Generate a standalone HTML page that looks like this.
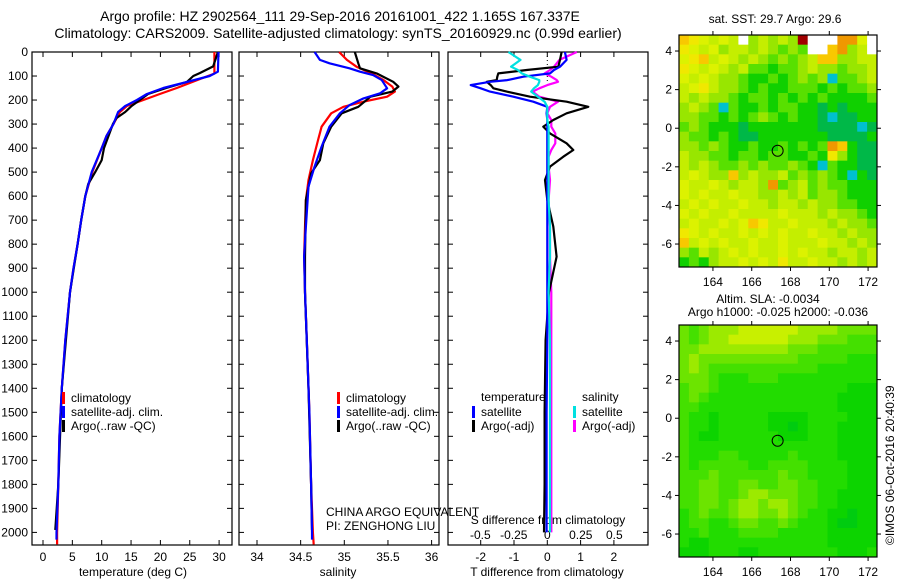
<!DOCTYPE html>
<html><head><meta charset="utf-8">
<style>
body{margin:0;background:#fff;}
svg{display:block;font-family:"Liberation Sans",sans-serif;}
text{fill:#000;}
</style></head>
<body>
<svg id="fig" width="900" height="580" viewBox="0 0 900 580">
<text x="340" y="21" font-size="14" text-anchor="middle">Argo profile: HZ 2902564_111 29-Sep-2016 20161001_422 1.165S 167.337E</text>
<text x="338" y="38" font-size="14" text-anchor="middle">Climatology: CARS2009. Satellite-adjusted climatology: synTS_20160929.nc (0.99d earlier)</text>
<text x="775" y="23" font-size="12" text-anchor="middle">sat. SST: 29.7 Argo: 29.6</text>
<text x="768" y="303" font-size="12" text-anchor="middle">Altim. SLA: -0.0034</text>
<text x="778" y="316" font-size="12" text-anchor="middle">Argo h1000: -0.025 h2000: -0.036</text>
<text transform="translate(894,545) rotate(-90)" font-size="12">©IMOS 06-Oct-2016 20:40:39</text>
<text x="326" y="516" font-size="12">CHINA ARGO EQUIVALENT</text>
<text x="326" y="530" font-size="12">PI: ZENGHONG LIU</text>
<text x="133" y="576" font-size="12" text-anchor="middle">temperature (deg C)</text>
<text x="338" y="576" font-size="12" text-anchor="middle">salinity</text>
<text x="547" y="576" font-size="12" text-anchor="middle">T difference from climatology</text>
<text x="548" y="524" font-size="12" text-anchor="middle">S difference from climatology</text>
</svg>
<script>
// ---------- data ----------
const depthTicks=[0,100,200,300,400,500,600,700,800,900,1000,1100,1200,1300,1400,1500,1600,1700,1800,1900,2000];
const tTicks=[0,5,10,15,20,25,30];
const sTicks=[34,34.5,35,35.5,36];
const sTickLabels=["34","34.5","35","35.5","36"];
const dtTicks=[-2,-1,0,1,2];
const dsTicks=[-0.5,-0.25,0,0.25,0.5];
const dsTickLabels=["-0.5","-0.25","0","0.25","0.5"];

const tClimDepth=[0,90,100,150,175,200,225,250,300,350,400,500,600,700,800,900,1000,1200,1400,1600,1800,2000,2050];
const tClimVal=[29.2,29.2,28.1,22.8,19.9,17.1,14.3,13.1,12.0,10.8,10.0,8.4,7.2,6.5,5.9,5.2,4.6,3.8,3.2,2.8,2.6,2.4,2.4];
const tSatDepth=[0,82,100,125,150,175,200,225,250,300,350,400,500,600,700,800,900,1000,1200,1400,1600,1800,2000,2030];
const tSatVal=[29.9,29.8,28.4,24.5,20.5,17.7,16.0,14.0,12.8,12.0,10.8,10.0,8.3,7.2,6.5,5.9,5.2,4.6,3.8,3.2,2.8,2.6,2.3,2.3];
const tArgoDepth=[0,60,88,100,125,150,175,200,225,250,275,300,400,450,500,550,600,700,800,1000,1400,1800,1990];
const tArgoVal=[29.8,29.0,26.7,25.6,24.5,21.0,17.9,16.5,15.1,14.0,12.5,11.9,10.4,10.0,8.9,7.7,7.2,6.5,5.9,4.6,3.2,2.6,2.1];

const sClimDepth=[0,33,61,89,117,144,165,186,207,228,255,311,366,450,533,616,727,852,1000,1200,1500,1800,2000,2050];
const sClimVal=[34.94,35.03,35.14,35.31,35.45,35.55,35.58,35.49,35.22,34.99,34.85,34.74,34.70,34.64,34.59,34.56,34.55,34.54,34.55,34.57,34.60,34.62,34.64,34.65];
const sSatDepth=[0,33,47,68,82,96,117,151,172,193,221,255,311,394,477,560,727,852,1000,1200,1500,1800,2000,2030];
const sSatVal=[34.66,34.72,34.83,35.06,35.18,35.33,35.43,35.49,35.41,35.22,35.06,34.95,34.83,34.74,34.66,34.59,34.56,34.54,34.55,34.57,34.60,34.62,34.63,34.63];
const sArgoDepth=[0,47,68,89,124,144,165,186,228,255,311,380,450,505,616,852,1000,1400,1800,1990];
const sArgoVal=[35.12,35.16,35.18,35.37,35.56,35.62,35.55,35.30,35.16,34.97,34.85,34.76,34.72,34.62,34.56,34.55,34.55,34.59,34.62,34.63];

const dDepth=[0,33,61,75,89,103,117,124,138,151,165,186,207,228,255,283,311,339,380,408,436,477,533,616,727,852,1000,1200,1500,1800,2000];
const dtSatVal=[0.53,0.58,0.38,0.2,0.08,-0.72,-1.2,-1.72,-2.3,-2.0,-1.72,-1.02,-0.42,0.0,-0.02,0.0,0.0,0.0,0.0,0.0,0.0,0.0,0.0,0.0,0.0,0.0,0.0,0.0,-0.02,-0.02,-0.02];
const dtArgoVal=[0.43,0.38,0.33,-0.62,-1.47,-1.5,-1.52,-1.82,-1.7,-1.62,-1.22,-0.52,0.58,1.23,0.58,0.18,-0.12,0.08,0.58,0.78,0.48,0.08,-0.07,0.0,0.18,0.28,0.05,-0.05,-0.08,-0.08,-0.1];
const dsSatVal=[-0.29,-0.2,-0.27,-0.22,-0.19,-0.13,-0.06,-0.06,-0.07,-0.10,-0.12,-0.07,-0.02,0.0,0.0,0.0,0.01,0.01,0.01,0.01,0.01,0.01,0.01,0.01,0.02,0.02,0.01,0.02,0.02,0.02,0.02];
const dsArgoVal=[0.22,0.09,0.05,0.02,-0.02,0.03,0.07,0.08,0.0,-0.06,-0.11,-0.06,0.08,0.02,0.0,0.03,0.03,0.06,0.06,0.03,0.01,0.01,0.02,0.01,0.02,0.02,0.03,0.03,0.03,0.03,0.03];

const sstRows=[
"HGFEFEWDEDEDRWWWIIFW","GFEFDEEDEDCDCWWHIDEW","FGHEFEDEDCDCDEHHDDEE","GFEFEDECCBCCDEDDCDDE",
"FEFEDDCBBCBCDCDTCCDE","EFGEDDCBCBBCCCBCBCCD","EDEDDCBCCBCBCBCBBBBC","DEDCTCBBCBCCBBABABBB",
"DDCCBCBCDCBCBBATAABB","CDCBBBABBBBBBBAAAATA","DCCBCBAABBBBBBBAAAAB","DDCDCBBCBBCBCBCIHBAA",
"EDDCCBCCBCCBBCBGDBAA","EDEDCCDCDCCDCBTCBBAA","EFEDDHDEDDECDCDCBTBA","FEEFEDEEDICDECDCCBBB",
"FEFEEFEEDDEDECDDCBBB","EFEFEEFEEDEEDEDDCCBB","FEFEEFEEEEFEEEDEDDCB","EFEEFEFHGEEFEEEDEDDC",
"GFEFEEFEFEFEEFEEDEDD","HEFEFEEFEEFEEEFEEDED","DCEDEFEFEEFEFEEDEEDE","BCBDEEFEFEGEEFEEDEDE"];
const slaRows=[
"MNMLLLYYYYYYLLLLMMMM","MNMLLYYYYYYLLLMMMNNN","MMLLLLLLLLLMMMNNNNNN","MLMMMMMMMMMMNNNNNOOO",
"MLMNNNNNNNNNNNOOOOOO","MMMNOOONNNOOOOOOOOOO","NMMNOOOOOOOOOOOOOPPP","NMNOOOOOOOOOOOOOPPPP",
"NNOOOOOOOOOOOOOOPPPP","NOOPOOOOOPPPPOOOOPPP","NOOPOOOOOPPQPOOOPPPP","NOPPOOOOOOPPPOOOPPPP",
"NOOOOOOOOOOOOOOOPPPP","NOOONNOOOOONOOOOPPPP","NONNNNNOONNNNOOOOPPP","NNNMNNNNNNMNNOOOOPPP",
"NNMMNNMMNNMMNNOOOPPP","NNMMNNMLLMMMNNOOPPPP","NNMMNMLLMLLMNNOOPPPP","ONMNNMLLMMLMNOOPPQPP",
"ONNOONMMNNMNOOOPQQPP","OONOOONNNNOOOOOPPPPP","OPPOOOOOOOOOOOOPPPPP","PPPOOOPPOOOOOOOOPPPO"];
const lonTicks=[164,166,168,170,172];
const latTicks=[4,2,0,-2,-4,-6];
const argoLon=167.337, argoLat=-1.165;

// ---------- helpers ----------
const NS="http://www.w3.org/2000/svg";
const svg=document.getElementById('fig');
function mk(tag,attrs,parent){const e=document.createElementNS(NS,tag);for(const k in attrs)e.setAttribute(k,attrs[k]);(parent||svg).appendChild(e);return e;}
const Y0=52, Y1=545;
const yD=d=>Y0+0.2402*d;
const xT=t=>43+5.87*t;
const xS=s=>257+87.3*(s-34);
const xDT=t=>547.3+33.3*t;
const xDS=s=>547.3+134*s;

function frame(x0,x1,name){
  const r=mk('rect',{x:x0,y:Y0,width:x1-x0,height:Y1-Y0,fill:'none',stroke:'#000','stroke-width':1.2});
  
  
  depthTicks.forEach(d=>{
    const t1=mk('line',{x1:x0,x2:x0+5,y1:yD(d),y2:yD(d),stroke:'#000'});
    
    
    const t2=mk('line',{x1:x1-5,x2:x1,y1:yD(d),y2:yD(d),stroke:'#000'});
    
    
  });
}
function xticks(vals,labels,fx,ly,name,top){
  vals.forEach((v,i)=>{
    const x=fx(v);
    const b=mk('line',{x1:x,x2:x,y1:Y1,y2:Y1-5,stroke:'#000'});
    
    
    if(top){const t=mk('line',{x1:x,x2:x,y1:Y0,y2:Y0+5,stroke:'#000'});
      
      }
    const tx=mk('text',{x:x,y:ly,'font-size':12,'text-anchor':'middle'});
    tx.textContent=labels?labels[i]:String(v);
    
    
  });
}
function line(depths,vals,fx,color,name,w){
  const pts=depths.map((d,i)=>fx(vals[i]).toFixed(1)+','+yD(d).toFixed(1)).join(' ');
  const p=mk('polyline',{points:pts,fill:'none',stroke:color,'stroke-width':w||2.2,'stroke-linejoin':'round'});
  
  
}
function legendItem(x,y,color,label,name){
  const b=mk('rect',{x:x,y:y-10,width:3,height:12,fill:color});
  
  
  const t=mk('text',{x:x+9,y:y,'font-size':12});
  t.textContent=label;
  
  
}

depthTicks.forEach(d=>{
  const t=mk('text',{x:28,y:yD(d)+4,'font-size':12,'text-anchor':'end'});
  t.textContent=String(d);
  
  
});

// panel 1
frame(32,232,'temperature-panel');
xticks(tTicks,null,xT,561,'temperature-x',true);
line(tClimDepth,tClimVal,xT,'#ff0000','temperature-climatology-line');
line(tArgoDepth,tArgoVal,xT,'#000000','temperature-argo-line');
line(tSatDepth,tSatVal,xT,'#0000ff','temperature-satellite-line');
legendItem(62,402,'#ff0000','climatology','legend-climatology');
legendItem(62,416,'#0000ff','satellite-adj. clim.','legend-satellite-adj');
legendItem(62,430,'#000000','Argo(..raw -QC)','legend-argo');

// panel 2
frame(239,439,'salinity-panel');
xticks(sTicks,sTickLabels,xS,561,'salinity-x',true);
line(sClimDepth,sClimVal,xS,'#ff0000','salinity-climatology-line');
line(sArgoDepth,sArgoVal,xS,'#000000','salinity-argo-line');
line(sSatDepth,sSatVal,xS,'#0000ff','salinity-satellite-line');
legendItem(337,402,'#ff0000','climatology','legend2-climatology');
legendItem(337,416,'#0000ff','satellite-adj. clim.','legend2-satellite-adj');
legendItem(337,430,'#000000','Argo(..raw -QC)','legend2-argo');

// panel 3
frame(448,648,'difference-panel');
xticks(dtTicks,null,xDT,561,'t-diff-x',true);
dsTicks.forEach((v,i)=>{
  const t=mk('text',{x:xDS(v),y:539,'font-size':12,'text-anchor':'middle'});
  t.textContent=dsTickLabels[i];
  
  
});
const zl=mk('line',{x1:xDT(0),x2:xDT(0),y1:Y0,y2:yD(130),stroke:'#000','stroke-dasharray':'1,3'});


line(dDepth,dsArgoVal,xDS,'#ff00ff','s-diff-argo-line');
line(dDepth,dtArgoVal,xDT,'#000000','t-diff-argo-line');
line(dDepth,dtSatVal,xDT,'#0000ff','t-diff-satellite-line');
line(dDepth,dsSatVal,xDS,'#00e0e0','s-diff-satellite-line');
const lt=mk('text',{x:481,y:401,'font-size':12});lt.textContent='temperature';


const ls=mk('text',{x:582,y:401,'font-size':12});ls.textContent='salinity';


legendItem(472,416,'#0000ff','satellite','legend-t-satellite');
legendItem(472,430,'#000000','Argo(-adj)','legend-t-argo');
legendItem(573,416,'#00e0e0','satellite','legend-s-satellite');
legendItem(573,430,'#ff00ff','Argo(-adj)','legend-s-argo');

// ---------- maps ----------
const sstPal={A:'#00b848',B:'#10d000',C:'#58e000',D:'#98e600',E:'#c4ee00',F:'#dcf200',G:'#f0e800',H:'#f8c800',I:'#f09800',W:'#ffffff',R:'#a00000',T:'#00c0d0'};
const slaPal={Y:'#c8f000',L:'#9cea00',M:'#6ce400',N:'#44e000',O:'#22dc00',P:'#0cd400',Q:'#00cc10'};
const LON0=162.25,LON1=172.46,LAT0=4.83,LAT1=-7.19;
function drawMap(rows,pal,mx0,mx1,my0,my1,name){
  const fx=lon=>mx0+(lon-LON0)/(LON1-LON0)*(mx1-mx0);
  const fy=lat=>my0+(LAT0-lat)/(LAT0-LAT1)*(my1-my0);
  const g=mk('g',{});
  
  
  const nr=rows.length, nc=rows[0].length;
  const cw=(LON1-LON0)/nc, ch=(LAT0-LAT1)/nr;
  rows.forEach((row,r)=>{
    for(let c=0;c<nc;c++){
      const xa=fx(LON0+c*cw), xb=fx(LON0+(c+1)*cw);
      const ya=fy(LAT0-r*ch), yb=fy(LAT0-(r+1)*ch);
      const cell=mk('rect',{x:xa.toFixed(2),y:ya.toFixed(2),width:(xb-xa+0.4).toFixed(2),height:(yb-ya+0.4).toFixed(2),fill:pal[row[c]]},g);
      
      
    }
  });
  const fr=mk('rect',{x:mx0,y:my0,width:mx1-mx0,height:my1-my0,fill:'none',stroke:'#000','stroke-width':1.2});
  
  
  lonTicks.forEach(l=>{
    const x=fx(l);
    const a=mk('line',{x1:x,x2:x,y1:my1,y2:my1+4,stroke:'#000'});
    
    
    const b=mk('line',{x1:x,x2:x,y1:my0,y2:my0-4,stroke:'#000'});
    
    
    const t=mk('text',{x:x,y:my1+19,'font-size':12,'text-anchor':'middle'});t.textContent=String(l);
    
    
  });
  latTicks.forEach(l=>{
    const y=fy(l);
    const a=mk('line',{x1:mx0-4,x2:mx0,y1:y,y2:y,stroke:'#000'});
    
    
    const b=mk('line',{x1:mx1,x2:mx1+4,y1:y,y2:y,stroke:'#000'});
    
    
    const t=mk('text',{x:mx0-7,y:y+4,'font-size':12,'text-anchor':'end'});t.textContent=String(l);
    
    
  });
  const c=mk('circle',{cx:fx(argoLon),cy:fy(argoLat),r:5.5,fill:'none',stroke:'#000','stroke-width':1});
  
  
}
drawMap(sstRows,sstPal,679,877,35,267,'sst-map');
drawMap(slaRows,slaPal,679,877,325,557,'sla-map');
</script>
</body></html>
